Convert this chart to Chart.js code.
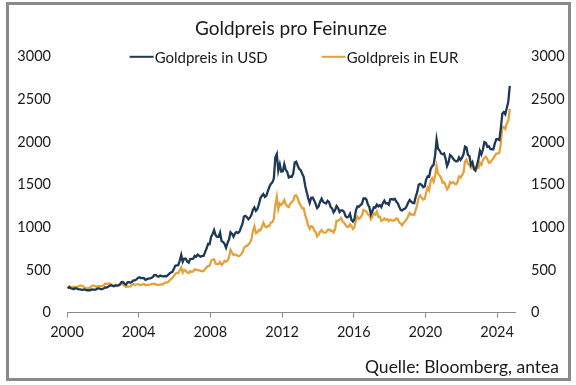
<!DOCTYPE html>
<html>
<head>
<meta charset="utf-8">
<script src="https://cdn.jsdelivr.net/npm/chart.js@4"></script>
<style>
html, body { margin: 0; padding: 0; background: #fff; }
#wrap { position: relative; width: 576px; height: 385px; }
#frame { position: absolute; left: 6px; top: 2px; width: 565px; height: 379px; border: 3px solid #8a8a8a; box-sizing: border-box; pointer-events: none; }
</style>
</head>
<body>
<div id="wrap">
  <canvas id="chart" width="576" height="385"></canvas>
  <div id="frame"></div>
</div>
<script>
const startYear = 2000;
const title = 'Goldpreis pro Feinunze';
const source = 'Quelle: Bloomberg, antea';
const seriesNames = ['Goldpreis in USD', 'Goldpreis in EUR'];
const xTicks = [2000, 2004, 2008, 2012, 2016, 2020, 2024];
const yTicks = [0, 500, 1000, 1500, 2000, 2500, 3000];

// monthly values, Jan 2000 .. Sep 2024
const usd = [
  284, 300, 286, 280, 275, 286, 282, 275, 273, 270, 266, 272,
  266, 262, 263, 261, 272, 270, 268, 273, 283, 283, 276, 276,
  282, 296, 294, 302, 314, 321, 314, 310, 319, 317, 319, 333,
  357, 359, 340, 328, 355, 356, 351, 360, 379, 379, 389, 407,
  414, 405, 406, 404, 384, 392, 398, 400, 406, 420, 439, 442,
  424, 423, 434, 429, 422, 430, 424, 438, 456, 470, 476, 510,
  549, 555, 557, 610, 676, 596, 633, 632, 598, 585, 627, 629,
  631, 665, 655, 679, 667, 655, 665, 665, 712, 754, 806, 803,
  889, 922, 968, 909, 888, 889, 939, 839, 829, 806, 760, 816,
  858, 943, 924, 890, 928, 945, 934, 949, 996, 1043, 1127, 1134,
  1118, 1095, 1113, 1148, 1205, 1233, 1193, 1215, 1271, 1342, 1370, 1391,
  1356, 1372, 1424, 1473, 1510, 1528, 1572, 1820, 1860, 1665, 1739, 1652,
  1656, 1742, 1673, 1650, 1585, 1596, 1594, 1630, 1760, 1770, 1722, 1685,
  1671, 1627, 1593, 1487, 1414, 1343, 1286, 1347, 1349, 1316, 1275, 1225,
  1244, 1300, 1336, 1299, 1287, 1279, 1311, 1296, 1239, 1222, 1176, 1200,
  1251, 1227, 1179, 1198, 1199, 1182, 1131, 1117, 1125, 1159, 1086, 1068,
  1097, 1200, 1246, 1242, 1260, 1276, 1337, 1340, 1326, 1266, 1236, 1151,
  1192, 1234, 1231, 1266, 1246, 1260, 1236, 1283, 1314, 1280, 1283, 1265,
  1331, 1331, 1325, 1335, 1303, 1282, 1238, 1202, 1198, 1215, 1221, 1250,
  1291, 1320, 1300, 1286, 1284, 1359, 1413, 1500, 1510, 1495, 1471, 1480,
  1560, 1597, 1592, 1683, 1716, 1732, 1846, 2030, 1922, 1900, 1866, 1858,
  1867, 1808, 1718, 1760, 1850, 1834, 1807, 1785, 1775, 1777, 1821, 1790,
  1817, 1856, 1948, 1937, 1849, 1836, 1733, 1764, 1681, 1665, 1726, 1798,
  1898, 1855, 1913, 2000, 1992, 1943, 1951, 1919, 1916, 1916, 1985, 2034,
  2033, 2024, 2161, 2331, 2351, 2326, 2399, 2471, 2660
];

const eur = [
  281, 306, 298, 298, 302, 301, 300, 306, 314, 318, 309, 302,
  283, 285, 289, 293, 313, 318, 312, 303, 311, 311, 310, 310,
  320, 340, 334, 339, 341, 334, 317, 316, 326, 323, 319, 326,
  337, 332, 315, 301, 306, 304, 308, 324, 335, 324, 332, 331,
  329, 321, 330, 337, 320, 324, 324, 328, 333, 336, 338, 330,
  324, 325, 329, 333, 332, 352, 353, 356, 374, 392, 403, 429,
  454, 466, 464, 496, 528, 469, 498, 494, 471, 464, 486, 477,
  485, 508, 496, 503, 494, 489, 485, 489, 512, 531, 548, 550,
  605, 623, 625, 575, 569, 570, 594, 559, 576, 606, 598, 609,
  650, 737, 705, 674, 682, 675, 662, 664, 682, 705, 756, 777,
  782, 799, 818, 857, 956, 1011, 932, 942, 970, 965, 1000, 1054,
  1012, 1001, 1017, 1016, 1056, 1061, 1099, 1260, 1358, 1215, 1279, 1261,
  1284, 1320, 1267, 1250, 1238, 1277, 1296, 1315, 1370, 1375, 1345, 1286,
  1256, 1223, 1225, 1144, 1088, 1017, 982, 1013, 1007, 968, 944, 894,
  915, 949, 968, 941, 939, 940, 971, 974, 960, 962, 941, 976,
  1078, 1076, 1092, 1109, 1071, 1055, 1028, 1006, 1004, 1035, 1015, 980,
  1006, 1081, 1123, 1099, 1115, 1139, 1205, 1196, 1184, 1151, 1144, 1096,
  1125, 1164, 1150, 1183, 1123, 1125, 1075, 1087, 1104, 1085, 1097, 1072,
  1091, 1082, 1077, 1085, 1104, 1096, 1058, 1045, 1024, 1057, 1071, 1096,
  1132, 1168, 1150, 1148, 1146, 1203, 1262, 1351, 1373, 1347, 1325, 1333,
  1405, 1465, 1434, 1544, 1574, 1533, 1605, 1720, 1629, 1610, 1581, 1523,
  1530, 1494, 1444, 1467, 1529, 1516, 1531, 1513, 1504, 1532, 1597, 1584,
  1608, 1642, 1771, 1794, 1744, 1732, 1699, 1747, 1698, 1699, 1692, 1696,
  1757, 1734, 1788, 1818, 1828, 1799, 1758, 1761, 1791, 1808, 1838, 1866,
  1865, 1874, 1983, 2179, 2177, 2154, 2221, 2246, 2390
];

const toPoints = arr => arr.map((v, i) => ({ x: startYear + (i + 0.5) / 12, y: v }));

const FONT = 'Lato';
const TEXT = '#1a1a1a';

// legend sits on the row of the top tick labels, source note bottom right
const extras = {
  id: 'extras',
  afterDraw(chart) {
    const { ctx, chartArea } = chart;
    const items = chart.data.datasets;
    const lineW = 24, gap = 54;
    ctx.save();
    ctx.font = `15px ${FONT}`;
    ctx.textBaseline = 'middle';
    const widths = items.map(d => lineW + 1 + ctx.measureText(d.label).width);
    const total = widths.reduce((a, b) => a + b, 0) + gap * (items.length - 1);
    let x = (chartArea.left + chartArea.right) / 2 + 3 - total / 2;
    const y = chartArea.top;
    items.forEach((d, i) => {
      ctx.strokeStyle = d.borderColor;
      ctx.lineWidth = 2;
      ctx.beginPath();
      ctx.moveTo(x, y);
      ctx.lineTo(x + lineW, y);
      ctx.stroke();
      ctx.fillStyle = TEXT;
      ctx.fillText(d.label, x + lineW + 1, y + 1);
      x += widths[i] + gap;
    });
    ctx.font = `17.5px ${FONT}`;
    ctx.textAlign = 'right';
    ctx.fillText(source, chart.width - 17, 367);
    ctx.restore();
  }
};

const yAxis = (position) => ({
  type: 'linear',
  position: position,
  min: 0,
  max: 3000,
  grid: { display: false, drawTicks: false },
  border: { display: false },
  afterBuildTicks: axis => { axis.ticks = yTicks.map(v => ({ value: v })); },
  afterFit: axis => { axis.width = 50; },
  ticks: { color: TEXT, font: { family: FONT, size: 14.5 }, padding: 16, callback: v => String(v) }
});

new Chart(document.getElementById('chart'), {
  type: 'line',
  data: {
    datasets: [
      {
        label: seriesNames[0],
        data: toPoints(usd),
        borderColor: '#1f3856',
        borderWidth: 2.3,
        pointRadius: 0,
        tension: 0,
        yAxisID: 'y'
      },
      {
        label: seriesNames[1],
        data: toPoints(eur),
        borderColor: '#e4a23c',
        borderWidth: 2.3,
        pointRadius: 0,
        tension: 0,
        yAxisID: 'y1'
      }
    ]
  },
  options: {
    responsive: false,
    animation: false,
    layout: { padding: { left: 17, right: 11, top: 0, bottom: 38 } },
    plugins: {
      legend: { display: false },
      tooltip: { enabled: false },
      title: {
        display: true,
        text: title,
        color: TEXT,
        font: { family: FONT, size: 19, weight: 'normal' },
        padding: { top: 17, bottom: 17 }
      }
    },
    scales: {
      x: {
        type: 'linear',
        min: 2000,
        max: 2025,
        grid: { display: true, drawOnChartArea: false, drawTicks: true, tickLength: 5, color: '#8a8a8a' },
        border: { display: true, color: '#8a8a8a', width: 1 },
        afterBuildTicks: axis => { axis.ticks = xTicks.map(v => ({ value: v })); },
        ticks: { color: TEXT, font: { family: FONT, size: 14.5 }, padding: 6, maxRotation: 0, callback: v => String(v) }
      },
      y: yAxis('left'),
      y1: yAxis('right')
    }
  },
  plugins: [extras]
});
</script>
</body>
</html>
